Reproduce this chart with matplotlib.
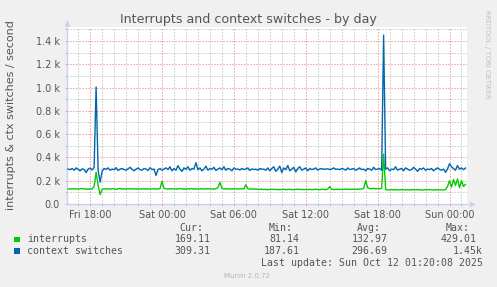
import numpy as np
import matplotlib
matplotlib.use("Agg")
import matplotlib.pyplot as plt
from matplotlib.patches import Rectangle
from matplotlib.ticker import FixedLocator, FuncFormatter

# ---- data (5-min RRD averaged to 10-min samples, hours relative to Sat 00:00) ----
start_hour = -7.8333   # Fri 16:10
step_hours = 1.0 / 6.0

context_switches = [
    300, 295, 305, 290, 310, 298, 285, 302, 296, 270, 300, 308, 292, 315,
    1005, 290, 188,
    280, 305, 298, 310, 290, 300, 295, 312, 288, 300, 305, 296, 290,
    302, 315, 298, 285, 300, 310, 295, 290, 305, 300, 288, 312, 296, 300,
    245,
    295, 305, 290, 300, 310,
    296, 320, 285, 305, 290, 330, 300, 280, 310, 298, 320, 290, 305, 300,
    355,
    295, 310, 285, 300, 325, 290, 305, 298, 315, 288, 300, 310, 295, 320, 290,
    305, 300, 285, 310, 298, 300, 292, 305, 296, 300, 310, 288, 302, 295, 300, 290, 305, 298,
    300, 290, 310, 285, 305, 320, 280, 300, 325, 270, 310, 295, 330, 285, 300, 315, 275, 305,
    320, 290, 300, 310, 285, 305, 296, 300, 310, 292,
    300, 305, 298, 300, 302, 296, 300, 310, 298, 300, 295, 305, 300, 290, 310, 296,
    300, 305, 290, 300, 310, 295, 300, 285, 305, 300, 290, 315, 296, 300, 305, 290,
    1450,
    300, 310, 285, 300, 295, 320, 290, 300, 305, 285, 310, 300, 290, 295, 315,
    300, 280, 305, 298, 310, 290, 300, 296, 305, 285, 300, 310, 298, 290, 300,
    272, 300, 347, 320, 305, 290, 330, 300, 310, 295, 309.31,
]

interrupts = [
    130, 128, 132, 129, 131, 127, 130, 133, 128, 130, 126, 131, 129, 150,
    272, 160, 81,
    125, 132, 128, 130, 127, 131, 129, 126, 130, 133,
    128, 130, 127, 132, 129, 130, 128, 131, 126, 130,
    129, 132, 128, 130, 127, 131, 129, 130, 128, 132,
    195,
    135, 130, 128, 132, 129, 131, 127, 130, 133, 128,
    130, 126, 131, 129, 132, 128, 130, 127, 131, 129,
    130, 128, 133, 129, 130, 127, 131, 140,
    186,
    135, 129, 131, 128, 130, 127, 132, 129, 130, 128, 131, 129,
    166,
    132, 128, 130, 126, 129, 127, 125, 128, 124, 126,
    123, 125, 127, 124, 126, 123, 125, 124, 127, 123,
    125, 126, 124, 123, 125, 127, 124, 126, 123, 125,
    124, 126, 123, 125, 127, 124, 123, 126, 125, 124, 128,
    149,
    126, 124, 125, 127, 124, 126, 125, 128, 126, 127,
    125, 128, 126, 127, 129, 128, 135,
    200,
    140, 133, 131, 134, 130, 133, 131, 135,
    429,
    125, 120, 122, 124, 121, 123, 122, 120, 124, 122,
    121, 123, 120, 122, 124, 121, 123, 122, 120, 121,
    123, 122, 124, 121, 120, 122, 123, 121, 122, 120, 124,
    150, 200, 145, 210, 160, 215, 140, 200, 150, 169.11,
]

series_names = ["interrupts", "context switches"]
series_colors = ["#00CC00", "#0066B3"]
stat_headers = ["Cur:", "Min:", "Avg:", "Max:"]
stats = [
    ["169.11", "81.14", "132.97", "429.01"],
    ["309.31", "187.61", "296.69", "1.45k"],
]

xtick_hours = [-6, 0, 6, 12, 18, 24]
xtick_labels = ["Fri 18:00", "Sat 00:00", "Sat 06:00", "Sat 12:00", "Sat 18:00", "Sun 00:00"]
ytick_values = [0, 200, 400, 600, 800, 1000, 1200, 1400]

title = "Interrupts and context switches - by day"
ylabel = "interrupts & ctx switches / second"
last_update = "Last update: Sun Oct 12 01:20:08 2025"
footer = "Munin 2.0.72"
watermark = "RRDTOOL / TOBI OETIKER"

# ---- figure ----
W, H = 497, 287
fig = plt.figure(figsize=(W / 100, H / 100), dpi=100, facecolor="#F0F0F0")

def fx(x):
    return x / W

def fy(y):
    return 1 - y / H

ax = fig.add_axes([fx(67), fy(204), 400 / W, 177 / H])
ax.set_facecolor("white")

t_int = start_hour + step_hours * np.arange(len(interrupts))
t_ctx = start_hour + step_hours * np.arange(len(context_switches))

ax.set_xlim(-7.93, 25.46)
ax.set_ylim(0, 1520)

# grids
minor_x = np.arange(-7, 26, 1)
minor_y = np.arange(100, 1600, 200)
gkw = dict(lw=1.0, ls=(0, (1, 1)), antialiased=False)
for xv in minor_x:
    if xv % 6 != 0:
        ax.axvline(xv, color="#D6D6D6", zorder=1, **gkw)
for yv in minor_y:
    ax.axhline(yv, color="#D6D6D6", zorder=1, **gkw)
for xv in xtick_hours:
    ax.axvline(xv, color="#F2B6B6", zorder=1.5, **gkw)
for yv in ytick_values[1:]:
    ax.axhline(yv, color="#F2B6B6", zorder=1.5, **gkw)

ax.plot(t_int, interrupts, color=series_colors[0], lw=1.0, zorder=3)
ax.plot(t_ctx, context_switches, color=series_colors[1], lw=1.0, zorder=3)

# axes styling
for s in ["top", "right"]:
    ax.spines[s].set_visible(False)
for s in ["left", "bottom"]:
    ax.spines[s].set_color("#CCCCF4")
    ax.spines[s].set_linewidth(1.0)

ax.xaxis.set_major_locator(FixedLocator(xtick_hours))
ax.set_xticklabels(xtick_labels)
ax.xaxis.set_minor_locator(FixedLocator([v for v in minor_x if v % 6 != 0]))
ax.yaxis.set_major_locator(FixedLocator(ytick_values))
ax.yaxis.set_major_formatter(FuncFormatter(lambda v, p: "0.0" if v == 0 else f"{v/1000:.1f} k"))
ax.yaxis.set_minor_locator(FixedLocator(list(minor_y)))
ax.tick_params(axis="both", which="both", colors="#BBBBBB", length=1.6, width=0.7,
               labelcolor="#555555", labelsize=7)
ax.tick_params(axis="x", which="major", pad=3)
ax.tick_params(axis="y", which="major", pad=3.5)

# arrows
ax.plot([0], [1.02], marker="^", ms=5, color="#CCCCF4", transform=ax.transAxes,
        clip_on=False, zorder=5, mec="none")
ax.plot([1.012], [0], marker=">", ms=5, color="#CCCCF4", transform=ax.transAxes,
        clip_on=False, zorder=5, mec="none")

# texts
fig.text(fx(248), fy(19), title, ha="center", va="center", fontsize=9.1, color="#555555")
fig.text(fx(11), fy(115), ylabel, ha="center", va="center", rotation=90, fontsize=8,
         color="#555555")
fig.text(fx(487), fy(54), watermark, ha="center", va="center", rotation=270, fontsize=5,
         color="#C0C0C0")
fig.text(fx(247.5), fy(276), footer, ha="center", va="center", fontsize=5, color="#B4B4B4")

mono = "DejaVu Sans Mono"
fs = 7.1
header_right = [203.3, 292.3, 380.7, 470.0]
value_right = [210.7, 299.3, 387.7, 476.7]
for hx, htxt in zip(header_right, stat_headers):
    fig.text(fx(hx), fy(228.3), htxt, ha="right", va="center", family=mono, fontsize=fs,
             color="#555555")

row_y = [239.3, 251.0]
for r, (name, col, vals) in enumerate(zip(series_names, series_colors, stats)):
    y = row_y[r]
    fig.patches.append(Rectangle((fx(14), fy(y + 2.7)), 5.5 / W, 5.5 / H, facecolor=col,
                                 edgecolor="none", transform=fig.transFigure, figure=fig))
    fig.text(fx(26.7), fy(y), name, ha="left", va="center", family=mono, fontsize=fs,
             color="#555555")
    for c, v in enumerate(vals):
        xr = value_right[c]
        if v.endswith("k"):
            xr = 482.7
        fig.text(fx(xr), fy(y), v, ha="right", va="center", family=mono, fontsize=fs,
                 color="#555555")

fig.text(fx(482.7), fy(263.3), last_update, ha="right", va="center", family=mono,
         fontsize=fs, color="#555555")

fig.savefig("out.png", dpi=100, facecolor=fig.get_facecolor())
